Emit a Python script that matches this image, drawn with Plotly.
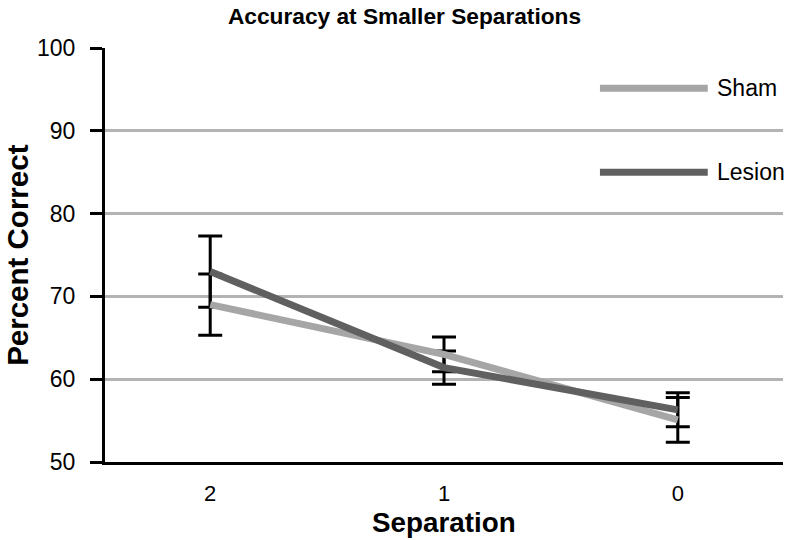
import plotly.graph_objects as go

separation = ["2", "1", "0"]
sham_mean = [69.0, 63.0, 55.1]
sham_err = [3.7, 2.1, 2.7]
lesion_mean = [73.0, 61.4, 56.3]
lesion_err = [4.3, 2.0, 2.05]
y_ticks = [50, 60, 70, 80, 90, 100]

SHAM_C = "#a6a6a6"
LESION_C = "#606060"
FONT = "Liberation Sans, Arial, sans-serif"

fig = go.Figure()

# error bars (drawn under the lines)
for mean, err in [(sham_mean, sham_err), (lesion_mean, lesion_err)]:
    fig.add_trace(go.Scatter(
        x=separation, y=mean, mode="markers",
        marker=dict(size=1, opacity=0),
        error_y=dict(type="data", array=err, visible=True,
                     color="black", thickness=3, width=12),
        showlegend=False, hoverinfo="skip"))

fig.add_trace(go.Scatter(x=separation, y=sham_mean, mode="lines", name="Sham",
                         line=dict(color=SHAM_C, width=7), showlegend=False))
fig.add_trace(go.Scatter(x=separation, y=lesion_mean, mode="lines", name="Lesion",
                         line=dict(color=LESION_C, width=7), showlegend=False))

# manual legend
legend_items = [("Sham", SHAM_C, 0.903), ("Lesion", LESION_C, 0.700)]
for name, col, yy in legend_items:
    fig.add_shape(type="line", xref="paper", yref="paper",
                  x0=0.730, x1=0.889, y0=yy, y1=yy,
                  line=dict(color=col, width=7))
    fig.add_annotation(xref="paper", yref="paper", x=0.899, y=yy,
                       text=name, showarrow=False, xanchor="left", yanchor="middle",
                       font=dict(family=FONT, size=23, color="black"))

# axis titles placed as annotations
fig.add_annotation(xref="paper", yref="paper", x=-0.130, y=0.5,
                   text="<b>Percent Correct</b>", textangle=-90, showarrow=False,
                   xanchor="center", yanchor="middle", borderpad=0,
                   font=dict(family=FONT, size=29.5, color="black"))
fig.add_annotation(xref="paper", yref="paper", x=0.5, y=-0.146,
                   text="<b>Separation</b>", showarrow=False,
                   xanchor="center", yanchor="middle", borderpad=0,
                   font=dict(family=FONT, size=27.8, color="black"))

fig.update_layout(
    width=789, height=540,
    margin=dict(l=105, r=6, t=48, b=78),
    paper_bgcolor="white", plot_bgcolor="white",
    font=dict(family=FONT, color="black"),
    title=dict(text="<b>Accuracy at Smaller Separations</b>",
               xref="container", yref="container", x=404.5 / 789, y=1 - 16 / 540,
               xanchor="center", yanchor="middle",
               font=dict(family=FONT, size=22.7, color="black")),
    xaxis=dict(type="category", range=[-0.45, 2.45], automargin=False,
               showgrid=False, zeroline=False,
               showline=True, linecolor="black", linewidth=3,
               ticks="", ticklabelstandoff=10,
               tickfont=dict(size=22, color="black")),
    yaxis=dict(range=[50, 100], tickvals=y_ticks, automargin=False,
               showgrid=True, gridcolor="#b3b3b3", gridwidth=3,
               zeroline=False, showline=True, linecolor="black", linewidth=3,
               ticks="outside", ticklen=12, tickwidth=3, tickcolor="black",
               ticklabelstandoff=10,
               tickfont=dict(size=23, color="black")),
)

fig.write_html("out.html", config={"displayModeBar": False},
               post_script="document.body.style.margin='0';")
